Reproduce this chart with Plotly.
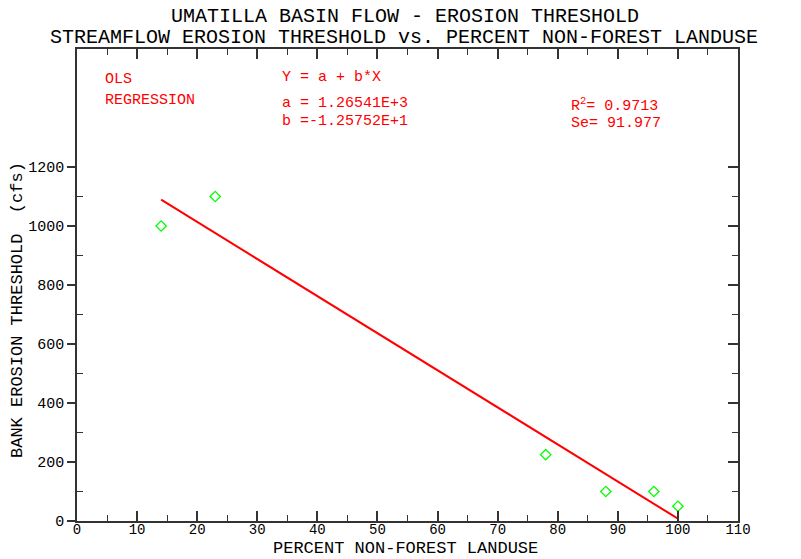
import plotly.graph_objects as go

# Data
pct_nonforest = [14, 23, 78, 88, 96, 100]
erosion_threshold = [1000, 1100, 225, 100, 100, 50]

# Regression coefficients shown on the chart
coef_a = 1265.41
coef_b = -12.5752
fit_x = [14, 100]
fit_y = [coef_a + coef_b * x for x in fit_x]

x_ticks = list(range(0, 111, 10))
y_ticks = list(range(0, 1201, 200))
y_minor = list(range(100, 1201, 200))

FONT = "Liberation Mono"
RED = "#ff0000"
AX = "#333333"

L, R, T, B = 77, 63, 49, 38
W, H = 801, 559
PW, PH = W - L - R, H - T - B


def px_x(px):
    return (px - L) / PW


def px_y(py):
    return 1 - (py - T) / PH


fig = go.Figure()
fig.add_trace(go.Scatter(x=fit_x, y=fit_y, mode="lines",
                         line=dict(color=RED, width=2), showlegend=False, hoverinfo="skip"))
fig.add_trace(go.Scatter(x=pct_nonforest, y=erosion_threshold, mode="markers",
                         marker=dict(symbol="diamond-open", color="#00ff00", size=8,
                                     line=dict(width=1.3, color="#00ff00")),
                         showlegend=False))
# invisible trace to anchor right-side axis
fig.add_trace(go.Scatter(x=[0], y=[0], yaxis="y2", mode="markers",
                         marker=dict(opacity=0), showlegend=False, hoverinfo="skip"))

fig.update_layout(
    width=W, height=H,
    margin=dict(l=L, r=R, t=T, b=B, autoexpand=False),
    paper_bgcolor="white", plot_bgcolor="white",
    font=dict(family=FONT, color="black"),
    xaxis=dict(range=[0, 110], tickmode="array", tickvals=x_ticks, automargin=False,
               ticks="inside", ticklen=10, tickwidth=1.5, tickcolor=AX,
               ticklabelstandoff=-6,
               minor=dict(ticks="inside", ticklen=6, tickwidth=1.2, tickcolor=AX, dtick=5, tick0=0),
               showline=True, linecolor=AX, linewidth=1.5, mirror="ticks",
               showgrid=False, zeroline=False,
               tickfont=dict(size=14, family=FONT, color="black")),
    yaxis=dict(range=[0, 1600], tickmode="array", tickvals=y_ticks, automargin=False,
               ticks="outside", ticklen=8, tickwidth=1.5, tickcolor=AX,
               minor=dict(ticks="inside", ticklen=6, tickwidth=1.2, tickcolor=AX,
                          tickmode="array", tickvals=y_minor),
               showline=True, linecolor=AX, linewidth=1.5,
               showgrid=False, zeroline=False,
               tickfont=dict(size=15, family=FONT, color="black")),
    yaxis2=dict(range=[0, 1600], overlaying="y", side="right", automargin=False,
                tickmode="array", tickvals=y_ticks, showticklabels=False,
                ticks="inside", ticklen=10, tickwidth=1.5, tickcolor=AX,
                minor=dict(ticks="inside", ticklen=6, tickwidth=1.2, tickcolor=AX,
                           tickmode="array", tickvals=y_minor),
                showline=True, linecolor=AX, linewidth=1.5,
                showgrid=False, zeroline=False),
)

titles = [
    ("UMATILLA BASIN FLOW - EROSION THRESHOLD", 405, 16),
    ("STREAMFLOW EROSION THRESHOLD vs. PERCENT NON-FOREST LANDUSE", 404, 37),
]
for t, px, py in titles:
    fig.add_annotation(text=t, xref="paper", yref="paper",
                       x=px_x(px), y=px_y(py),
                       xanchor="center", yanchor="middle", showarrow=False,
                       font=dict(size=20, family=FONT, color="black"))

# x-axis title
fig.add_annotation(text="PERCENT NON-FOREST LANDUSE", xref="paper", yref="paper",
                   x=px_x(405), y=px_y(548), xanchor="center", yanchor="middle",
                   showarrow=False, font=dict(size=17, family=FONT, color="black"))

# y-axis title
fig.add_annotation(text="BANK EROSION THRESHOLD  (cfs)", xref="paper", yref="paper",
                   x=px_x(17), y=px_y(310),
                   xanchor="center", yanchor="middle", textangle=-90, showarrow=False,
                   font=dict(size=17, family=FONT, color="black"))

red_texts = [
    ("OLS", 103, 79),
    ("REGRESSION", 103, 100),
    ("Y = a + b*X", 280, 78),
    ("a = 1.26541E+3", 280, 103),
    ("b =-1.25752E+1", 280, 121),
    ("R<sup>2</sup>= 0.9713", 569, 105),
    ("Se= 91.977", 569, 123),
]
for t, px, py in red_texts:
    fig.add_annotation(text=t, xref="paper", yref="paper",
                       x=px_x(px), y=px_y(py),
                       xanchor="left", yanchor="middle", showarrow=False,
                       font=dict(size=15, family=FONT, color=RED))

fig.write_html("out.html")
